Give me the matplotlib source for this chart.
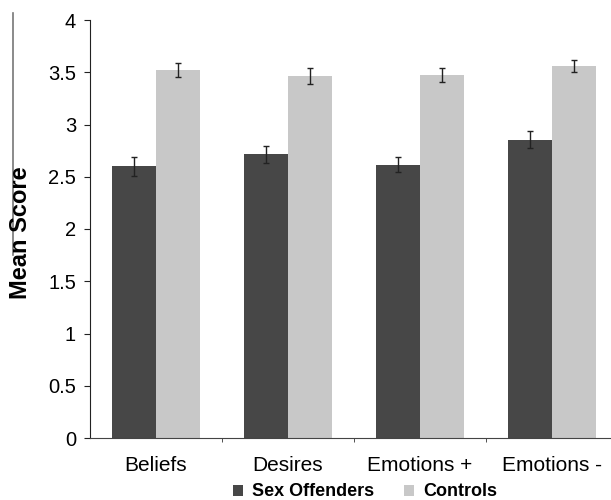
import numpy as np
import matplotlib
matplotlib.use('Agg')
import matplotlib.pyplot as plt
from matplotlib.lines import Line2D
from matplotlib.patches import Patch

plt.rcParams['font.family'] = ['Liberation Sans', 'DejaVu Sans']

# Datos
categorias = ['Beliefs', 'Desires', 'Emotions +', 'Emotions -']
sex_offenders = [2.60, 2.715, 2.615, 2.855]
sex_offenders_err = [0.09, 0.08, 0.07, 0.08]
controles = [3.52, 3.467, 3.477, 3.563]
controles_err = [0.07, 0.077, 0.067, 0.057]
yticks = [0, 0.5, 1, 1.5, 2, 2.5, 3, 3.5, 4]
ytick_labels = ['0', '0.5', '1', '1.5', '2', '2.5', '3', '3.5', '4']

color_oscuro = '#474747'
color_claro = '#c8c8c8'

fig = plt.figure(figsize=(6.11, 5.0), dpi=100)
ax = fig.add_axes([90 / 611, 1 - 438 / 500, 528 / 611, 418 / 500])

x = np.arange(len(categorias))
ancho = 1 / 3
ax.bar(x - ancho / 2, sex_offenders, ancho, color=color_oscuro, edgecolor='none')
ax.bar(x + ancho / 2, controles, ancho, color=color_claro, edgecolor='none')
ax.errorbar(x - ancho / 2, sex_offenders, yerr=sex_offenders_err, fmt='none',
            ecolor='#222222', elinewidth=1, capsize=2.5, capthick=1)
ax.errorbar(x + ancho / 2, controles, yerr=controles_err, fmt='none',
            ecolor='#222222', elinewidth=1, capsize=2.5, capthick=1)

ax.set_xlim(-0.5, len(categorias) - 0.5)
ax.set_ylim(0, 4)
ax.set_yticks(yticks)
ax.set_yticklabels(ytick_labels, fontsize=14.5)
ax.set_xticks(x)
ax.set_xticklabels(categorias, fontsize=15)
ax.set_xticks(x[:-1] + 0.5, minor=True)
ax.tick_params(axis='x', which='major', length=0, pad=13)
ax.tick_params(axis='x', which='minor', length=3, direction='out', color='#333333')
ax.tick_params(axis='y', length=4, direction='out', pad=6, color='#222222')

for lado in ['top', 'right']:
    ax.spines[lado].set_visible(False)
ax.spines['left'].set_color('#222222')
ax.spines['bottom'].set_color('#444444')

fig.text(21 / 611, 1 - 233 / 500, 'Mean Score', rotation=90, fontsize=17,
         fontweight='bold', ha='center', va='center')

# linea gris del borde izquierdo
fig.add_artist(Line2D([13 / 611, 13 / 611], [1 - 13 / 500, 1 - 255 / 500],
                      color='#777777', linewidth=1.2))

manejadores = [Patch(facecolor=color_oscuro, label='Sex Offenders'),
               Patch(facecolor=color_claro, label='Controls')]
fig.legend(handles=manejadores, loc='center', bbox_to_anchor=(365 / 611, 1 - 492 / 500),
           ncol=2, frameon=False, prop={'weight': 'bold', 'size': 13},
           handlelength=0.55, handleheight=0.55, handletextpad=0.5, columnspacing=1.7)

fig.savefig('out.png', dpi=100)
